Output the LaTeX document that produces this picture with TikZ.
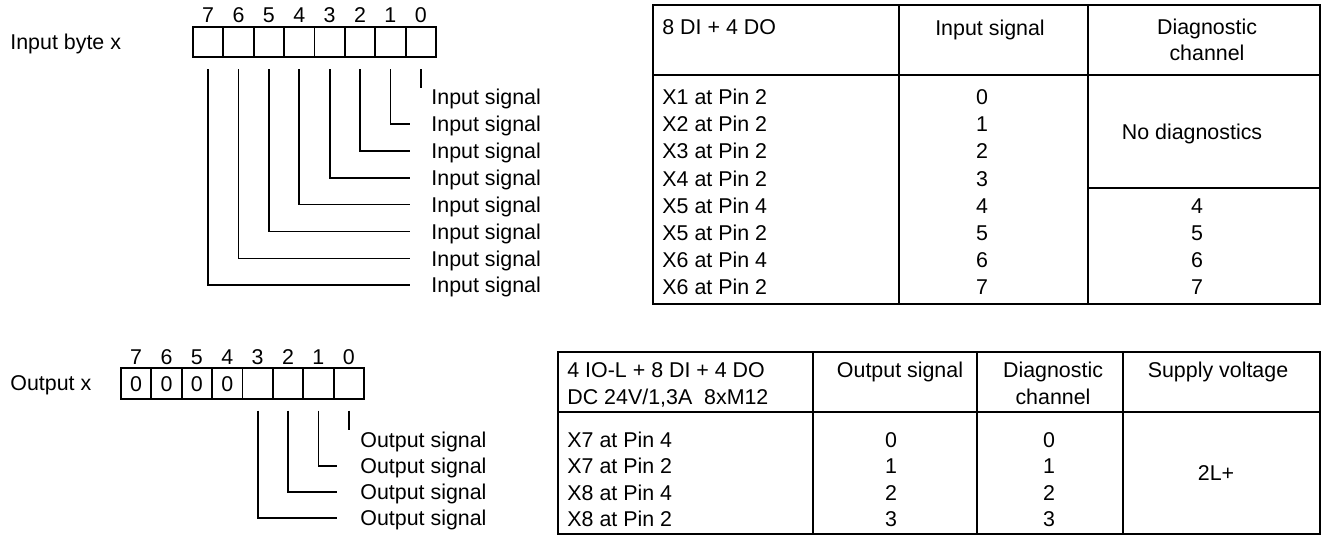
\documentclass[tikz,border=0pt]{standalone}
\usepackage{fontspec}
\setmainfont{Liberation Sans}
\newcommand{\fsz}{\fontsize{10.7}{12.8}\selectfont}
\begin{document}
\begin{tikzpicture}[x=0.5pt,y=-0.5pt,
  every node/.style={font=\fsz, inner sep=0pt, text height=7.66pt, text depth=0pt},
  cell/.style={draw, line width=0.9pt, minimum width=15.19pt, minimum height=15.3pt},
  conn/.style={line width=0.85pt},
  tab/.style={line width=1.3pt},
  sig/.style={anchor=west, inner xsep=10.5pt},
  lft/.style={anchor=west},
]
\useasboundingbox (0,0) rectangle (1322,536);

% ---------- Input byte ----------
\node[lft] (inlbl) at (10,42) {Input byte x};
\foreach \b in {7,...,0} {
  \node[cell] (ib\b) at ({193+30.375*(7.5-\b)},42) {};
  \node (ibd\b) at ({193+30.375*(7.5-\b)},15) {\b};
}
\foreach \b in {0,...,7}
  \node[sig] (is\b) at (410,{97+26.9*\b}) {Input signal};
\foreach \b in {1,...,7}
  \draw[conn] ([yshift=-5.5pt]ib\b.south) |- (is\b.west);
\draw[conn] ([yshift=-5.5pt]ib0.south) -- ([yshift=-15pt]ib0.south);

% ---------- Output byte ----------
\node[lft] (outlbl) at (10,383) {Output x};
\foreach \b in {7,6,5,4} {
  \node[cell] (ob\b) at ({121+30.375*(7.5-\b)},383.5) {0};
}
\foreach \b in {3,...,0} {
  \node[cell] (ob\b) at ({121+30.375*(7.5-\b)},383.5) {};
}
\foreach \b in {7,...,0}
  \node (obd\b) at ({121+30.375*(7.5-\b)},357) {\b};
\foreach \b in {0,...,3}
  \node[sig, inner xsep=11.5pt] (os\b) at (337,{439.5+26.2*\b}) {Output signal};
\foreach \b in {1,...,3}
  \draw[conn] ([yshift=-5.5pt]ob\b.south) |- (os\b.west);
\draw[conn] ([yshift=-5.5pt]ob0.south) -- ([yshift=-15pt]ob0.south);

% ---------- Table 1 ----------
\draw[tab] (653,5) rectangle (1320,304);
\draw[tab] (653,75) -- (1320,75);
\draw[tab] (899,5) -- (899,304);
\draw[tab] (1088,5) -- (1088,304);
\draw[tab] (1088,188) -- (1320,188);
\node[lft] (t1h1) at (662,27) {8 DI + 4 DO};
\node (t1h2) at (990,28) {Input signal};
\node (t1h3a) at (1207,27) {Diagnostic};
\node (t1h3b) at (1207,53) {channel};
\foreach \r/\t in {0/X1 at Pin 2,1/X2 at Pin 2,2/X3 at Pin 2,3/X4 at Pin 2,4/X5 at Pin 4,5/X5 at Pin 2,6/X6 at Pin 4,7/X6 at Pin 2} {
  \node[lft] (t1r\r) at (662,{97+27.14*\r}) {\t};
  \node (t1v\r) at (982,{97+27.14*\r}) {\r};
}
\foreach \r in {4,...,7}
  \node (t1d\r) at (1197,{97+27.14*\r}) {\r};
\node (t1nd) at (1192,132) {No diagnostics};

% ---------- Table 2 ----------
\draw[tab] (558,352) rectangle (1320,534);
\draw[tab] (558,412) -- (1320,412);
\draw[tab] (813,352) -- (813,534);
\draw[tab] (977,352) -- (977,534);
\draw[tab] (1123,352) -- (1123,534);
\node[lft] (t2h1a) at (567,370) {4 IO-L + 8 DI + 4 DO};
\node[lft] (t2h1b) at (567,397) {DC 24V/1,3A\ \ 8xM12};
\node (t2h2) at (900,370) {Output signal};
\node (t2h3a) at (1053,370) {Diagnostic};
\node (t2h3b) at (1053,397) {channel};
\node (t2h4) at (1218,370) {Supply voltage};
\foreach \r/\t in {0/X7 at Pin 4,1/X7 at Pin 2,2/X8 at Pin 4,3/X8 at Pin 2} {
  \node[lft] (t2r\r) at (567,{440+26.2*\r}) {\t};
  \node (t2v\r) at (891,{440+26.2*\r}) {\r};
  \node (t2d\r) at (1049,{440+26.2*\r}) {\r};
}
\node (t2sv) at (1216,473) {2L+};
\end{tikzpicture}
\end{document}
